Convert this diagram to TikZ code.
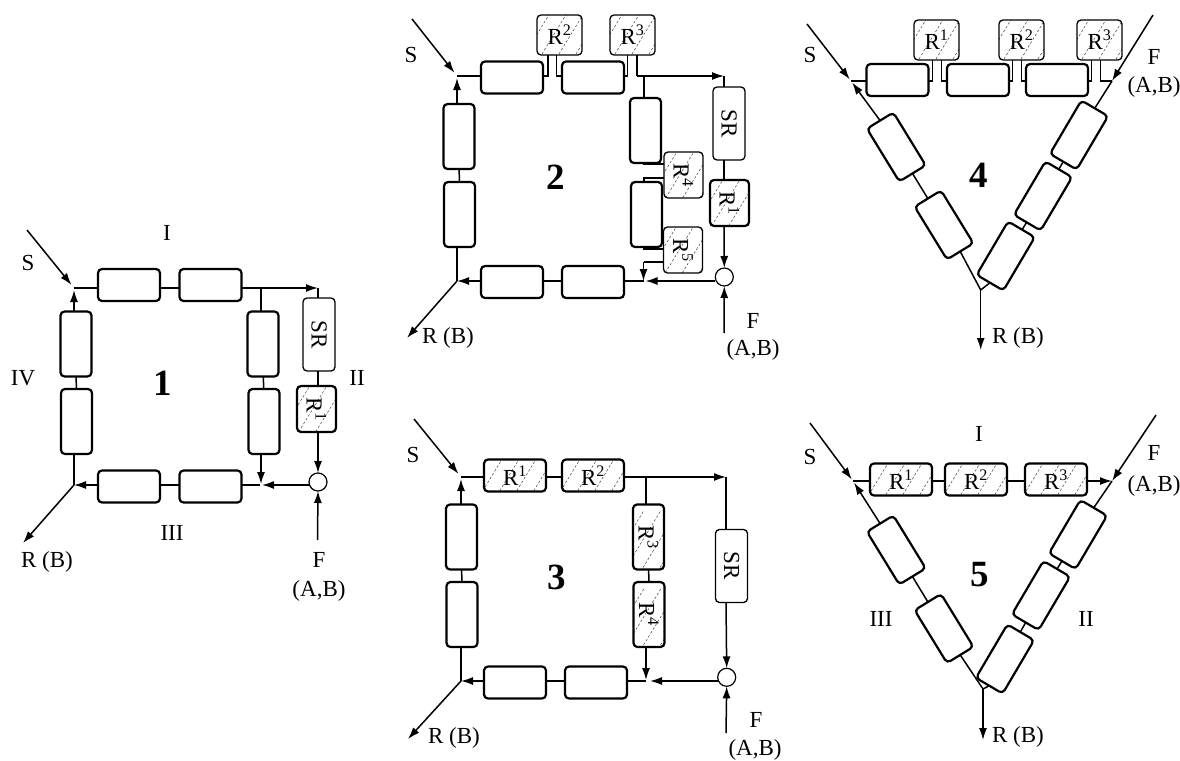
\documentclass[tikz,border=0pt]{standalone}
\usepackage{fontspec}
\setmainfont{Liberation Serif}
\usetikzlibrary{arrows.meta}
\newcommand{\vtxt}[1]{\rotatebox[origin=c]{-90}{#1}}
\newcommand{\sr}[1]{R\textsuperscript{#1}}
\tikzset{
  every node/.style={font=\fontsize{23}{25}\selectfont},
  blk/.style={draw,line width=2.2pt,rounded corners=4pt,inner sep=0pt,outer sep=0pt},
  hb/.style={blk,minimum width=62,minimum height=32},
  vb/.style={blk,minimum width=31,minimum height=65},
  thinbox/.style={line width=1.3pt},
  srbox/.style={blk,thinbox,minimum width=32,minimum height=73},
  hatched/.style={path picture={
    \foreach \d in {-85,-68,...,85}
      \draw[shift={(path picture bounding box.center)},line width=0.45pt,dash pattern=on 2.5pt off 2pt,black!80] (\d-22,36) -- (\d+22,-36);}},
  stubbox/.style={blk,thinbox,hatched,minimum width=45,minimum height=40},
  sideR/.style={blk,hatched,minimum width=39,minimum height=46},
  sideRthin/.style={sideR,thinbox},
  hR/.style={hb,hatched},
  vR/.style={vb,hatched},
  rup/.style={blk,minimum width=62,minimum height=31,rotate=59.5},
  rdn/.style={blk,minimum width=62,minimum height=31,rotate=-58.5},
  wire/.style={line width=1.5pt},
  arrw/.style={wire,-{Latex[length=12pt,width=8pt]}},
  ring/.style={draw,circle,line width=1.2pt,minimum size=18,inner sep=0pt,outer sep=0pt},
  num/.style={font=\fontsize{37}{37}\selectfont\bfseries},
}
\begin{document}
\begin{tikzpicture}[x=1pt,y=-1pt]
\useasboundingbox (0,0) rectangle (1180,760);
% ---------- diagram 1
\node[hb] (a1) at (129,285) {};
\node[hb] (a2) at (210.5,285) {};
\node[vb] (a3) at (263,344) {};
\node[vb] (a4) at (264,421.5) {};
\node[hb] (a5) at (210.5,486.5) {};
\node[hb] (a6) at (129,486.5) {};
\node[vb] (a7) at (76.5,421.5) {};
\node[vb] (a8) at (76,344) {};
\node[srbox] (asr) at (319,334.5) {\vtxt{SR}};
\node[sideR] (ar1) at (316.5,409) {\vtxt{\sr{1}}};
\node[ring] (ao) at (318,482) {};
\coordinate (atl) at (74,288);
\coordinate (atr) at (261,288);
\coordinate (ac) at (318,288);
\coordinate (abl) at (74,485);
\coordinate (abr) at (261,485);
\coordinate (as) at (27,230);
\coordinate (ar) at (23,543);
\coordinate (af) at (317.5,540);
\draw[wire] (atl) -- (atl -| a1.west);
\draw[wire] (atl -| a1.east) -- (atl -| a2.west);
\draw[arrw] (atl -| a2.east) -- (ac);
\draw[wire] (ac) -- (ac |- asr.north);
\draw[wire] (atr) -- (atr |- a3.north);
\draw[wire] (a3) -- (a4);
\draw[arrw,shorten >=1pt] (a4.south -| abr) -- (abr);
\draw[wire] (ac |- asr.south) -- (ac |- ar1.north);
\draw[arrw] (ac |- ar1.south) -- (ao.north);
\draw[arrw] (af) -- (ao.south);
\draw[arrw,shorten >=1pt] (abr -| ao.west) -- (abr);
\draw[wire,shorten >=1pt] (abr -| a5.east) -- (abr);
\draw[wire] (a5.west |- abr) -- (a6.east |- abr);
\draw[arrw] (a6.west |- abr) -- (abl);
\draw[wire] (a7.south -| abl) -- (abl);
\draw[wire] (a7) -- (a8);
\draw[arrw,shorten >=2pt] (a8.north -| atl) -- (atl);
\draw[arrw,shorten >=4pt] (as) -- (atl);
\draw[arrw] (abl) -- (ar);
\node (alI) at (167,233) {I};
\node (alS) at (28,263) {S};
\node (alIV) at (23,378) {IV};
\node[num] (aln) at (163,383) {1};
\node (alII) at (357,378) {II};
\node (alIII) at (172,533) {III};
\node (alR) at (47,562) {R (B)};
\node (alF) at (319,560) {F};
\node (alAB) at (319,591) {(A,B)};
% ---------- diagram 2
\node[hb] (b1) at (512,77.5) {};
\node[hb] (b2) at (593,77.5) {};
\node[vb] (b3) at (645.5,130.5) {};
\node[vb] (b4) at (646.5,214.5) {};
\node[hb] (b5) at (593,282) {};
\node[hb] (b6) at (512,282) {};
\node[vb] (b7) at (459.5,214.5) {};
\node[vb] (b8) at (459,136.5) {};
\node[stubbox] (br2) at (559.5,35) {\sr{2}};
\node[stubbox] (br3) at (632.5,35) {\sr{3}};
\node[srbox] (bsr) at (729,123.5) {\vtxt{SR}};
\node[sideR] (br1) at (729.5,203) {\vtxt{\sr{1}}};
\node[sideRthin] (br4) at (683.5,175) {\vtxt{\sr{4}}};
\node[sideRthin] (br5) at (683,250) {\vtxt{\sr{5}}};
\node[ring] (bo) at (724.3,277) {};
\coordinate (btl) at (457,76);
\coordinate (bbl) at (457,281);
\coordinate (bbr) at (643.5,281);
\coordinate (bc) at (724,76);
\coordinate (bt) at (644,76);
\coordinate (bs2a) at (548,76);
\coordinate (bs2b) at (556.7,76);
\coordinate (bs3a) at (627.7,76);
\coordinate (bs3b) at (637,76);
\coordinate (bs4a) at (644,164);
\coordinate (bs4b) at (644,178);
\coordinate (bs5a) at (644,249);
\coordinate (bs5b) at (643.5,262);
\coordinate (bs) at (412,19);
\coordinate (br) at (407,338);
\coordinate (bf) at (724,333);
\draw[wire] (btl) -- (btl -| b1.west);
\draw[wire] (btl -| b1.east) -- (bs2a) -- (bs2a |- br2.south);
\draw[wire] (btl -| b2.west) -- (bs2b) -- (bs2b |- br2.south);
\draw[wire] (btl -| b2.east) -- (bs3a) -- (bs3a |- br3.south);
\draw[wire] (bs3b |- br3.south) -- (bs3b);
\draw[arrw] (bs3b) -- (bc);
\draw[wire] (bc) -- (bc |- bsr.north);
\draw[wire] (bt) -- (bt |- b3.north);
\draw[wire] (bs4a |- b3.south) -- (bs4a) -- (bs4a -| br4.west);
\draw[wire] (bs4b |- b4.north) -- (bs4b) -- (bs4b -| br4.west);
\draw[wire] (bs5a |- b4.south) -- (bs5a) -- (bs5a -| br5.west);
\draw[wire] (br5.west |- bs5b) -- (bs5b);
\draw[arrw] (bs5b) -- (bbr);
\draw[wire] (bc |- bsr.south) -- (bc |- br1.north);
\draw[arrw] (bc |- br1.south) -- (bo.north);
\draw[arrw] (bf) -- (bo.south);
\draw[arrw,shorten >=2pt] (bbr -| bo.west) -- (bbr);
\draw[wire] (bbr -| b5.east) -- (bbr);
\draw[wire] (b5.west |- bbr) -- (b6.east |- bbr);
\draw[arrw] (b6.west |- bbl) -- (bbl);
\draw[wire] (b7.south -| bbl) -- (bbl);
\draw[wire] (b7) -- (b8);
\draw[arrw,shorten >=2pt] (b8.north -| btl) -- (btl);
\draw[arrw,shorten >=4pt] (bs) -- (btl);
\draw[arrw] (bbl) -- (br);
\node (blS) at (411,55) {S};
\node[num] (bln) at (556,177) {2};
\node (blR) at (448,338) {R (B)};
\node (blF) at (753,321) {F};
\node (blAB) at (753,350) {(A,B)};
% ---------- diagram 3
\node[hR] (c1) at (515,475.5) {\sr{1}};
\node[hR] (c2) at (593,475.5) {\sr{2}};
\node[vR] (c3) at (648.5,537) {\vtxt{\sr{3}}};
\node[vR] (c4) at (649,614.5) {\vtxt{\sr{4}}};
\node[hb] (c5) at (596,682.5) {};
\node[hb] (c6) at (515,682.5) {};
\node[vb] (c7) at (462,614.5) {};
\node[vb] (c8) at (461.5,537) {};
\node[srbox] (csr) at (731.5,566) {\vtxt{SR}};
\node[ring] (co) at (726.7,677.3) {};
\coordinate (ctl) at (461,477);
\coordinate (ct) at (646,477);
\coordinate (cc) at (726,477);
\coordinate (cbl) at (461,681);
\coordinate (cbr) at (646,681);
\coordinate (cs) at (414,419);
\coordinate (cr) at (408,739);
\coordinate (cf) at (726,733);
\draw[wire] (ctl) -- (ctl -| c1.west);
\draw[wire] (ctl -| c1.east) -- (ctl -| c2.west);
\draw[arrw] (ctl -| c2.east) -- (cc);
\draw[wire] (cc) -- (cc |- csr.north);
\draw[wire] (ct) -- (ct |- c3.north);
\draw[wire] (c3) -- (c4);
\draw[arrw,shorten >=1pt] (c4.south -| cbr) -- (cbr);
\draw[arrw] (cc |- csr.south) -- (co.north);
\draw[arrw] (cf) -- (co.south);
\draw[arrw,shorten >=4pt] (cbr -| co.west) -- (cbr);
\draw[wire] (cbr -| c5.east) -- (cbr);
\draw[wire] (c5.west |- cbr) -- (c6.east |- cbr);
\draw[arrw] (c6.west |- cbl) -- (cbl);
\draw[wire] (c7.south -| cbl) -- (cbl);
\draw[wire] (c7) -- (c8);
\draw[arrw,shorten >=2pt] (c8.north -| ctl) -- (ctl);
\draw[arrw,shorten >=4pt] (cs) -- (ctl);
\draw[arrw] (cbl) -- (cr);
\node (clS) at (413,455) {S};
\node[num] (cln) at (557,577) {3};
\node (clR) at (454,738) {R (B)};
\node (clF) at (756,720) {F};
\node (clAB) at (755,750) {(A,B)};
% ---------- diagram 4
\node[hb] (d1) at (897.5,80) {};
\node[hb] (d2) at (978,80) {};
\node[hb] (d3) at (1057,80) {};
\node[stubbox] (dr1) at (936.5,40) {\sr{1}};
\node[stubbox] (dr2) at (1021.5,40) {\sr{2}};
\node[stubbox] (dr3) at (1099.5,40) {\sr{3}};
\node[rup] (d4) at (1079,135) {};
\node[rup] (d5) at (1043,196) {};
\node[rup] (d6) at (1005.7,256) {};
\node[rdn] (d7) at (896.3,147) {};
\node[rdn] (d8) at (944,225) {};
\coordinate (dtl) at (851,81);
\coordinate (dtr) at (1112,81);
\coordinate (dj) at (980.7,290);
\coordinate (ds1a) at (932.7,81);
\coordinate (ds1b) at (941.7,81);
\coordinate (ds2a) at (1012.7,81);
\coordinate (ds2b) at (1021.7,81);
\coordinate (ds3a) at (1091.7,81);
\coordinate (ds3b) at (1100.7,81);
\coordinate (ds) at (807,24);
\coordinate (df) at (1153,15);
\coordinate (dr) at (980.7,350);
\draw[wire] (dtl) -- (dtl -| d1.west);
\draw[wire] (dtl -| d1.east) -- (ds1a) -- (ds1a |- dr1.south);
\draw[wire] (dtl -| d2.west) -- (ds1b) -- (ds1b |- dr1.south);
\draw[wire] (dtl -| d2.east) -- (ds2a) -- (ds2a |- dr2.south);
\draw[wire] (dtl -| d3.west) -- (ds2b) -- (ds2b |- dr2.south);
\draw[wire] (dtl -| d3.east) -- (ds3a) -- (ds3a |- dr3.south);
\draw[wire] (dtr) -- (ds3b) -- (ds3b |- dr3.south);
\draw[arrw] (df) -- (dtr);
\draw[wire] (dtr) -- (d4.east);
\draw[wire] (d4) -- (d5);
\draw[wire] (d5) -- (d6);
\draw[wire] (d6.west) -- (dj);
\draw[wire] (d8.east) -- (dj);
\draw[wire] (d7) -- (d8);
\draw[arrw,shorten >=2pt] (d7.west) -- (dtl);
\draw[arrw,shorten >=2pt] (ds) -- (dtl);
\draw[arrw] (dj) -- (dr);
\node (dlS) at (810,55) {S};
\node[num] (dln) at (979,175) {4};
\node (dlR) at (1018,338) {R (B)};
\node (dlF) at (1154,57) {F};
\node (dlAB) at (1154,87) {(A,B)};
% ---------- diagram 5
\node[hR] (e1) at (901,479.5) {\sr{1}};
\node[hR] (e2) at (976,479.5) {\sr{2}};
\node[hR] (e3) at (1056,479.5) {\sr{3}};
\node[rup] (e4) at (1078,534.5) {};
\node[rup] (e5) at (1041,595.5) {};
\node[rup] (e6) at (1005,659) {};
\node[rdn] (e7) at (896.3,550) {};
\node[rdn] (e8) at (944,628.5) {};
\coordinate (etl) at (853,481);
\coordinate (etr) at (1112,481);
\coordinate (ej) at (983,689);
\coordinate (es) at (810,423);
\coordinate (ef) at (1156,415);
\coordinate (er) at (983,740);
\draw[wire] (etl) -- (etl -| e1.west);
\draw[wire] (etl -| e1.east) -- (etl -| e2.west);
\draw[wire] (etl -| e2.east) -- (etl -| e3.west);
\draw[arrw] (etl -| e3.east) -- (etr);
\draw[arrw] (ef) -- (etr);
\draw[wire] (etr) -- (e4.east);
\draw[wire] (e4) -- (e5);
\draw[wire] (e5) -- (e6);
\draw[wire] (e6.west) -- (ej);
\draw[wire] (e8.east) -- (ej);
\draw[wire] (e7) -- (e8);
\draw[arrw,shorten >=2pt] (e7.west) -- (etl);
\draw[arrw,shorten >=2pt] (es) -- (etl);
\draw[arrw] (ej) -- (er);
\node (elI) at (979,434) {I};
\node (elS) at (810,457) {S};
\node[num] (eln) at (980,575) {5};
\node (elIII) at (881,619) {III};
\node (elII) at (1086,619) {II};
\node (elR) at (1018,737) {R (B)};
\node (elF) at (1154,453) {F};
\node (elAB) at (1154,486) {(A,B)};
\end{tikzpicture}
\end{document}
